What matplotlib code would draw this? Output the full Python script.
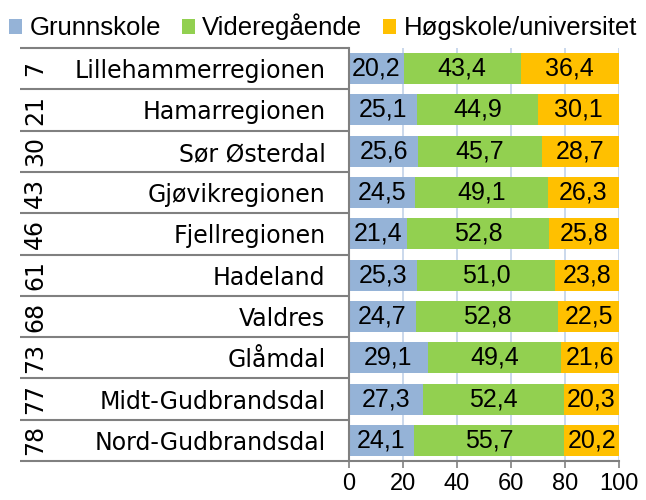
import matplotlib
matplotlib.use('Agg')
import matplotlib.pyplot as plt
import matplotlib.transforms as mtransforms
import numpy as np

regions = ['Lillehammerregionen', 'Hamarregionen', 'Sør Østerdal', 'Gjøvikregionen',
           'Fjellregionen', 'Hadeland', 'Valdres', 'Glåmdal', 'Midt-Gudbrandsdal',
           'Nord-Gudbrandsdal']
ranks = [7, 21, 30, 43, 46, 61, 68, 73, 77, 78]
grunnskole = [20.2, 25.1, 25.6, 24.5, 21.4, 25.3, 24.7, 29.1, 27.3, 24.1]
videregaaende = [43.4, 44.9, 45.7, 49.1, 52.8, 51.0, 52.8, 49.4, 52.4, 55.7]
hogskole = [36.4, 30.1, 28.7, 26.3, 25.8, 23.8, 22.5, 21.6, 20.3, 20.2]
series_names = ['Grunnskole', 'Videregående', 'Høgskole/universitet']
colors = ['#95B3D7', '#92D050', '#FFC000']
xticks = [0, 20, 40, 60, 80, 100]

arial = 'Liberation Sans'
wide = 'DejaVu Sans'

fig = plt.figure(figsize=(6.46, 5.0), dpi=100)
ax = fig.add_axes([349 / 646, 39 / 500, 270 / 646, 413 / 500])

y = np.arange(len(regions))
left = np.zeros(len(regions))
for name, vals, col in zip(series_names, [grunnskole, videregaaende, hogskole], colors):
    vals = np.array(vals)
    ax.barh(y, vals, left=left, height=0.75, color=col, label=name, zorder=2)
    for yi, l, v in zip(y, left, vals):
        ax.text(l + v / 2, yi, f'{v:.1f}'.replace('.', ','), ha='center', va='center',
                fontsize=18, family=arial, color='black', zorder=3)
    left += vals

ax.set_xlim(0, 100)
ax.set_ylim(len(regions) - 0.5, -0.5)
ax.set_xticks(xticks)
ax.set_xticklabels([str(t) for t in xticks], family=arial, fontsize=17)
ax.set_yticks(y)
ax.set_yticklabels(regions, fontsize=17, family=wide)
ax.tick_params(axis='y', length=0, pad=17)
ax.tick_params(axis='x', length=5, width=1.2, color='#808080', pad=4)
ax.grid(axis='x', color='#C6D6EA', linewidth=1.3, zorder=0)
for s in ['top', 'right']:
    ax.spines[s].set_visible(False)
for s in ['left', 'bottom']:
    ax.spines[s].set_color('#808080')
    ax.spines[s].set_linewidth(1.5)

# rank column and row separators
trans = mtransforms.blended_transform_factory(fig.transFigure, ax.transData)
for yi, r in zip(y, ranks):
    ax.text(35 / 646, yi, str(r), rotation=90, ha='center', va='center',
            fontsize=17, family=wide, transform=trans)
bounds = np.arange(len(regions) + 1) - 0.5
ax.hlines(bounds, 20 / 646, 349 / 646, colors='#808080', linewidth=1.5,
          transform=trans, clip_on=False)

handles, labels = ax.get_legend_handles_labels()
leg = fig.legend(handles, labels, loc='center', bbox_to_anchor=(0.5, 1 - 27 / 500), ncol=3,
                 frameon=False, prop={'family': arial, 'size': 18.5}, handlelength=0.5,
                 handleheight=0.55, handletextpad=0.3, columnspacing=0.8, borderaxespad=0)

plt.savefig('out.png', dpi=100)
